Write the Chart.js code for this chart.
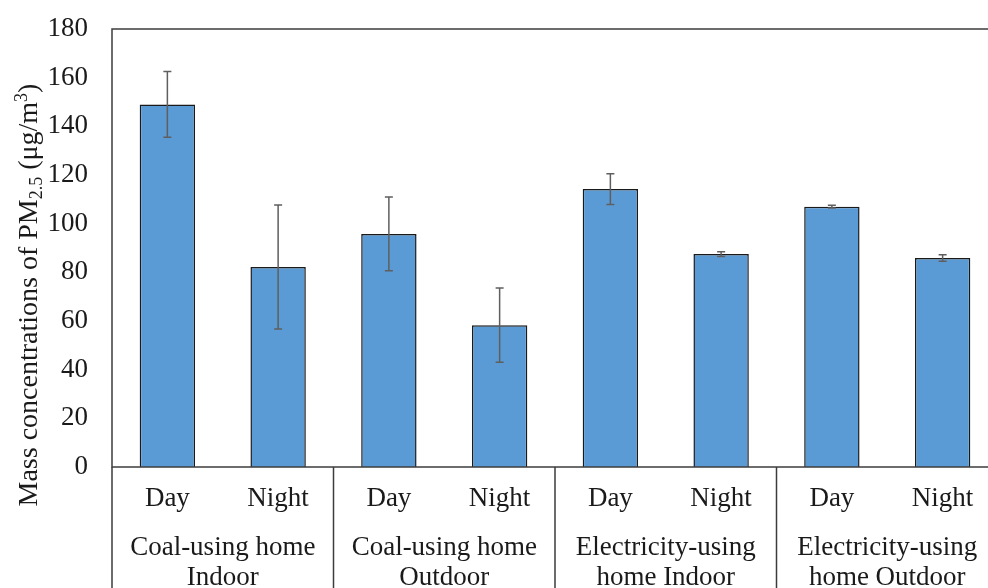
<!DOCTYPE html>
<html lang="en"><head>
<meta charset="utf-8">
<title>PM2.5 mass concentrations</title>
<script src="https://cdn.jsdelivr.net/npm/chart.js@4.4.3/dist/chart.umd.min.js"></script>
<style>
  html,body{margin:0;padding:0;background:#fff;overflow:hidden}
  #wrap{width:1000px;height:588px;position:relative}
</style>
</head><body>
<div id="wrap"><canvas id="chart"></canvas></div>
<script>
// data
const categories = ['Day', 'Night', 'Day', 'Night', 'Day', 'Night', 'Day', 'Night']
const groups = [
  ['Coal-using home', 'Indoor'],
  ['Coal-using home', 'Outdoor'],
  ['Electricity-using', 'home Indoor'],
  ['Electricity-using', 'home Outdoor'],
]
const pm25 = [149, 82.2, 95.8, 58.3, 114.2, 87.5, 107, 85.9]
const errors = [13.5, 25.5, 15.2, 15.3, 6.3, 1.0, 0.6, 1.3]
const yMin = 0, yMax = 180, yStep = 20

const FONT = "'Liberation Serif', 'Times New Roman', serif"
const TEXT = '#1a1a1a'
const LINE = '#3c3c3c'

const errorBars = {
  id: 'errorBars',
  afterDatasetsDraw(chart) {
    const { ctx, scales: { y } } = chart
    const meta = chart.getDatasetMeta(0)
    ctx.save()
    ctx.strokeStyle = '#5f5f5f'
    ctx.lineWidth = 1.5
    meta.data.forEach((bar, i) => {
      const top = y.getPixelForValue(pm25[i] + errors[i])
      const bot = y.getPixelForValue(pm25[i] - errors[i])
      ctx.beginPath()
      ctx.moveTo(bar.x, top); ctx.lineTo(bar.x, bot)
      ctx.moveTo(bar.x - 4, top); ctx.lineTo(bar.x + 4, top)
      ctx.moveTo(bar.x - 4, bot); ctx.lineTo(bar.x + 4, bot)
      ctx.stroke()
    })
    ctx.restore()
  }
}

const frameAndLabels = {
  id: 'frameAndLabels',
  afterDraw(chart) {
    const { ctx, chartArea: a, scales: { x } } = chart
    const H = chart.height
    ctx.save()
    // plot frame
    ctx.strokeStyle = LINE
    ctx.lineWidth = 1.5
    ctx.strokeRect(a.left, a.top, a.right - a.left, a.bottom - a.top)
    // group separators below the axis
    const half = (x.getPixelForValue(1) - x.getPixelForValue(0)) / 2
    ctx.beginPath()
    for (let g = 0; g <= groups.length; g++) {
      const px = g === 0 ? a.left : x.getPixelForValue(g * 2 - 1) + half
      ctx.moveTo(px, a.bottom); ctx.lineTo(px, H)
    }
    ctx.stroke()
    // category and group labels
    ctx.fillStyle = TEXT
    ctx.font = '27px ' + FONT
    ctx.textAlign = 'center'
    ctx.textBaseline = 'middle'
    categories.forEach((c, i) => ctx.fillText(c, x.getPixelForValue(i), a.bottom + 32))
    groups.forEach((lines, g) => {
      const cx = (x.getPixelForValue(g * 2) + x.getPixelForValue(g * 2 + 1)) / 2
      lines.forEach((t, k) => ctx.fillText(t, cx, a.bottom + 81 + k * 30))
    })
    // y axis title with sub/superscript
    const parts = [
      ['Mass concentrations of PM', 28, 0],
      ['2.5', 18, 7],
      [' (\u03bcg/m', 28, 0],
      ['3', 18, -8],
      [')', 28, 0],
    ]
    let total = 0
    parts.forEach(p => { ctx.font = p[1] + 'px ' + FONT; total += ctx.measureText(p[0]).width })
    ctx.translate(30, 295)
    ctx.rotate(-Math.PI / 2)
    ctx.textAlign = 'left'
    let cur = -total / 2
    parts.forEach(p => {
      ctx.font = p[1] + 'px ' + FONT
      ctx.fillText(p[0], cur, p[2])
      cur += ctx.measureText(p[0]).width
    })
    ctx.restore()
  }
}

new Chart(document.getElementById('chart'), {
  type: 'bar',
  data: {
    labels: categories,
    datasets: [{
      data: pm25,
      backgroundColor: '#5b9bd5',
      borderColor: '#1a1a1a',
      borderWidth: 1.5,
      barPercentage: 0.5,
      categoryPercentage: 1.0,
    }]
  },
  options: {
    responsive: true,
    maintainAspectRatio: false,
    animation: false,
    layout: { padding: { top: 29, right: 2, left: 0, bottom: 0 } },
    plugins: { legend: { display: false }, tooltip: { enabled: false } },
    scales: {
      x: {
        grid: { display: false },
        border: { display: false },
        ticks: { display: false },
        afterFit(scale) { scale.height = 121 },
      },
      y: {
        min: yMin, max: yMax,
        grid: { display: false, drawTicks: false },
        border: { display: false },
        ticks: { stepSize: yStep, color: TEXT, padding: 24, font: { family: FONT, size: 27 } },
        afterFit(scale) {
          scale.width = 112
          scale.paddingTop = 0
          scale.paddingBottom = 0
        },
      }
    }
  },
  plugins: [errorBars, frameAndLabels]
})
</script>
</body></html>
